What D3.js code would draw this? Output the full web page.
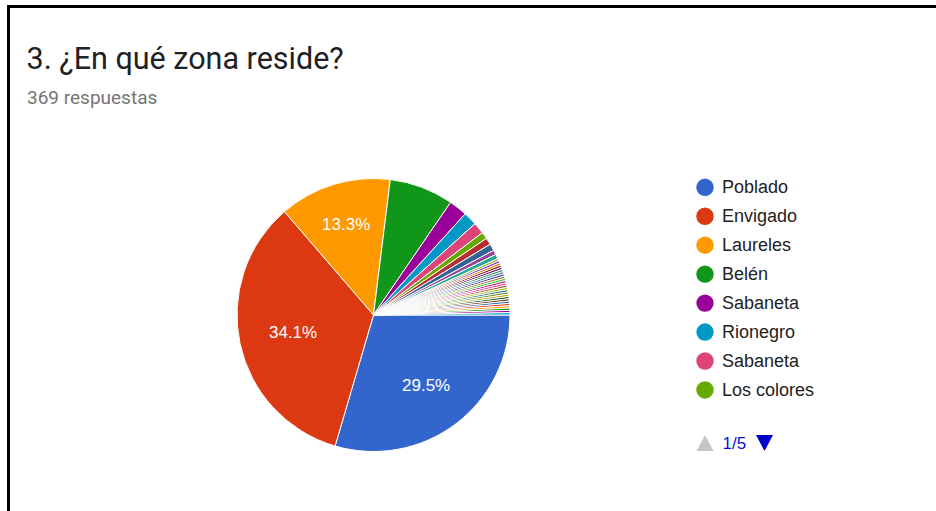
<!DOCTYPE html>
<html>
<head>
<meta charset="utf-8">
<script src="https://cdn.jsdelivr.net/npm/d3@7"></script>
<style>
  html, body { margin: 0; padding: 0; background: #fff; }
  svg { display: block; }
</style>
</head>
<body>
<svg id="chart" width="936" height="511"></svg>
<script>
// Question and response count
const title = "3. ¿En qué zona reside?";
const subtitle = "369 respuestas";

// Legend entries shown on the first legend page
const legendLabels = ["Poblado", "Envigado", "Laureles", "Belén", "Sabaneta", "Rionegro", "Sabaneta", "Los colores"];
const pageLabel = "1/5";

// Response counts per zone, in answer order (369 total)
const counts = [109, 126, 49, 28, 8, 6, 5, 3, 3, 3, 2, 2,
  1, 1, 1, 1, 1, 1, 1, 1, 1, 1, 1, 1, 1, 1, 1, 1, 1, 1, 1, 1, 1, 1, 1, 1, 1];

// Default chart palette (cycles when there are more slices than colours)
const palette = ["#3366cc", "#dc3912", "#ff9900", "#109618", "#990099", "#0099c6", "#dd4477", "#66aa00",
  "#b82e2e", "#316395", "#994499", "#22aa99", "#aaaa11", "#6633cc", "#e67300", "#8b0707", "#651067",
  "#329262", "#5574a6", "#3b3eac", "#b77322", "#16d620", "#b91383", "#f4359e", "#9c5935", "#a9c413",
  "#2a778d", "#668d1c", "#bea413", "#0c5922", "#743411"];

const svg = d3.select("#chart");
const W = 936, H = 511;

// Card frame: top and left edges
svg.append("rect").attr("x", 7).attr("y", 5).attr("width", W - 7).attr("height", 3).attr("fill", "#000");
svg.append("rect").attr("x", 7).attr("y", 5).attr("width", 3).attr("height", H - 5).attr("fill", "#000");

// Heading
svg.append("text")
  .attr("x", 26.5).attr("y", 68.5)
  .attr("font-family", "Roboto, sans-serif")
  .attr("font-size", 30.5)
  .attr("fill", "#202124")
  .text(title);

svg.append("text")
  .attr("x", 27).attr("y", 103.5)
  .attr("font-family", "Roboto, sans-serif")
  .attr("font-size", 19)
  .attr("fill", "#757575")
  .text(subtitle);

// Pie
const cx = 373.5, cy = 315, radius = 136.5;
const total = d3.sum(counts);
const color = d3.scaleOrdinal().domain(d3.range(counts.length)).range(palette);

const pie = d3.pie()
  .value(d => d)
  .sort(null)
  .startAngle(Math.PI / 2)
  .endAngle(Math.PI / 2 + 2 * Math.PI);

const arcs = pie(counts);
const arc = d3.arc().innerRadius(0).outerRadius(radius);

const g = svg.append("g").attr("transform", `translate(${cx},${cy})`);

g.selectAll("path.slice")
  .data(arcs)
  .join("path")
  .attr("class", "slice")
  .attr("d", arc)
  .attr("fill", (d, i) => color(i))
  .attr("stroke", "#fff")
  .attr("stroke-width", 1)
  .attr("stroke-linejoin", "round");

// Percentage labels on the larger slices; each label box is pushed
// outward until its far edge sits at a fixed distance from the centre
const labelFar = radius * 0.785;
const labelFont = 17;
const labelled = arcs.filter(d => d.value / total >= 0.1);

const labels = g.selectAll("text.pct")
  .data(labelled)
  .join("text")
  .attr("class", "pct")
  .attr("font-family", "Arial, 'Liberation Sans', sans-serif")
  .attr("font-size", labelFont)
  .attr("fill", "#fff")
  .attr("text-anchor", "middle")
  .attr("dominant-baseline", "central")
  .text(d => (d.value / total * 100).toFixed(1) + "%");

labels.each(function (d) {
  const a = (d.startAngle + d.endAngle) / 2;
  const hw = this.getComputedTextLength() / 2;
  const hh = labelFont * 0.36;
  const s = Math.sin(a), c = Math.cos(a);
  const dist = labelFar - (hw * Math.abs(s) + hh * Math.abs(c));
  d3.select(this).attr("x", dist * s).attr("y", -dist * c);
});

// Legend (first page)
const legendX = 705, legendY0 = 187.3, legendStep = 28.95;
const legend = svg.append("g");
const rows = legend.selectAll("g.row")
  .data(legendLabels)
  .join("g")
  .attr("class", "row")
  .attr("transform", (d, i) => `translate(${legendX},${legendY0 + i * legendStep})`);

rows.append("circle")
  .attr("r", 8.7)
  .attr("fill", (d, i) => color(i));

rows.append("text")
  .attr("x", 17)
  .attr("y", 0)
  .attr("dominant-baseline", "central")
  .attr("font-family", "Arial, 'Liberation Sans', sans-serif")
  .attr("font-size", 18)
  .attr("fill", "#222")
  .text(d => d);

// Pager
const pagerY = 443;
const up = d3.path();
up.moveTo(legendX - 8.5, pagerY + 8);
up.lineTo(legendX + 8.5, pagerY + 8);
up.lineTo(legendX, pagerY - 8);
up.closePath();
svg.append("path").attr("d", up.toString()).attr("fill", "#c6c6c6");

svg.append("text")
  .attr("x", 722.5).attr("y", pagerY)
  .attr("dominant-baseline", "central")
  .attr("font-family", "Arial, 'Liberation Sans', sans-serif")
  .attr("font-size", 17)
  .attr("fill", "#0011cc")
  .text(pageLabel);

const downX = 764.5;
const down = d3.path();
down.moveTo(downX - 8.5, pagerY - 8);
down.lineTo(downX + 8.5, pagerY - 8);
down.lineTo(downX, pagerY + 8);
down.closePath();
svg.append("path").attr("d", down.toString()).attr("fill", "#0000cc");
</script>
</body>
</html>
